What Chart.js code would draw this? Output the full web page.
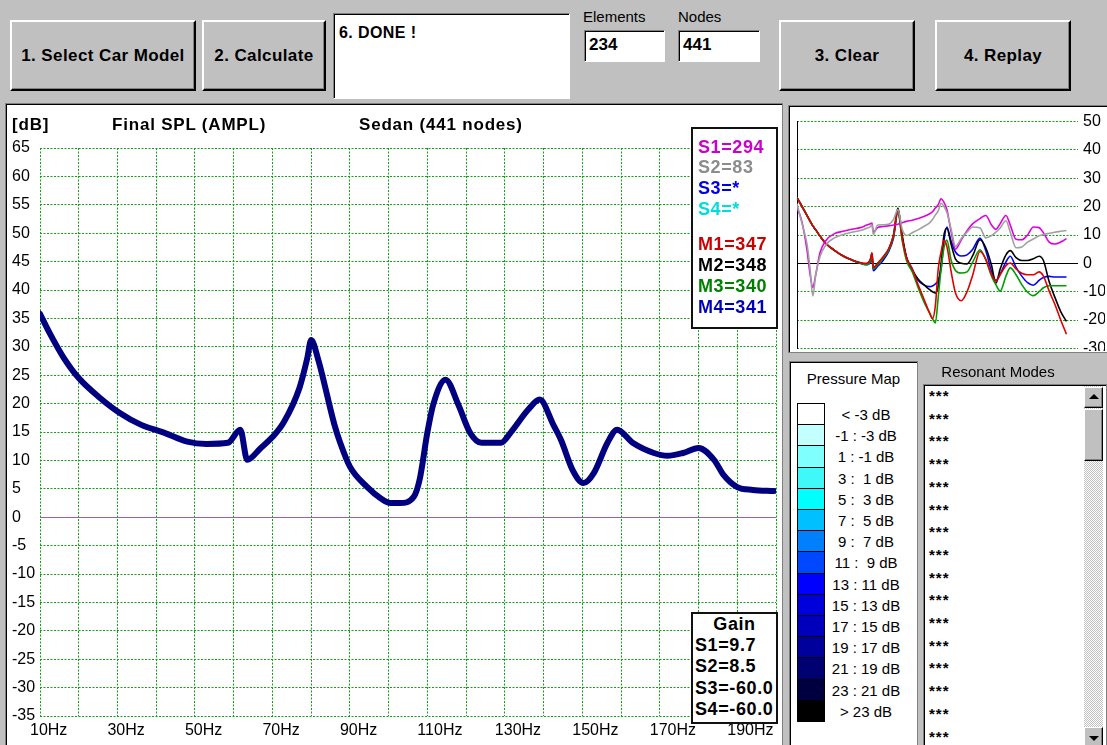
<!DOCTYPE html>
<html>
<head>
<meta charset="utf-8">
<script src="https://cdn.jsdelivr.net/npm/chart.js@4.4.1/dist/chart.umd.min.js"></script>
<style>
  html, body { margin: 0; padding: 0; }
  body {
    width: 1107px; height: 745px; overflow: hidden; position: relative;
    background: #c0c0c0; font-family: "Liberation Sans", Arial, sans-serif; color: #000;
  }
  .abs { position: absolute; white-space: nowrap; line-height: 1; }
  .btn {
    position: absolute; box-sizing: border-box; background: #c0c0c0;
    border-top: 2px solid #fff; border-left: 2px solid #fff;
    border-right: 2px solid #000; border-bottom: 2px solid #000;
    box-shadow: inset -1px -1px 0 #808080;
    display: flex; align-items: center; justify-content: center;
    font-weight: bold; font-size: 17px; letter-spacing: 0.4px;
  }
  .field {
    position: absolute; box-sizing: border-box; background: #fff;
    border-top: 1px solid #808080; border-left: 1px solid #808080;
    border-right: 1px solid #fff; border-bottom: 1px solid #fff;
    box-shadow: inset 1px 1px 0 #000;
  }
  .sunken {
    position: absolute; box-sizing: border-box; background: #fff;
    border-top: 1px solid #808080; border-left: 1px solid #808080;
    border-right: 1px solid #808080; border-bottom: 1px solid #808080;
    box-shadow: inset 1px 1px 0 #000;
  }
  .box { position: absolute; box-sizing: border-box; background: #fff; border: 2px solid #111; }
  .legtxt { position: absolute; font-weight: bold; font-size: 18px; letter-spacing: 0.6px; line-height: 1; white-space: nowrap; }
  .raised {
    position: absolute; box-sizing: border-box; background: #c0c0c0;
    border-top: 1px solid #fff; border-left: 1px solid #fff;
    border-right: 1px solid #000; border-bottom: 1px solid #000;
    box-shadow: inset -1px -1px 0 #808080;
  }
</style>
</head>
<body>

<!-- toolbar -->
<div class="btn" style="left:10px;top:20px;width:186px;height:71px;">1. Select Car Model</div>
<div class="btn" style="left:202px;top:20px;width:124px;height:71px;">2. Calculate</div>
<div class="field" style="left:333px;top:13px;width:237px;height:86px;"></div>
<div class="abs" style="left:339px;top:25px;font-size:16px;font-weight:bold;letter-spacing:0.4px;">6. DONE !</div>
<div class="abs" style="left:583px;top:9px;font-size:15px;">Elements</div>
<div class="field" style="left:584px;top:30px;width:81px;height:32px;"></div>
<div class="abs" style="left:589px;top:36px;font-size:17px;font-weight:bold;">234</div>
<div class="abs" style="left:678px;top:9px;font-size:15px;">Nodes</div>
<div class="field" style="left:678px;top:30px;width:82px;height:32px;"></div>
<div class="abs" style="left:683px;top:36px;font-size:17px;font-weight:bold;">441</div>
<div class="btn" style="left:779px;top:20px;width:136px;height:71px;">3. Clear</div>
<div class="btn" style="left:935px;top:20px;width:136px;height:71px;">4. Replay</div>

<!-- main SPL panel -->
<div class="sunken" style="left:5px;top:103px;width:778px;height:660px;"></div>
<canvas id="mainChart" width="774" height="639" style="position:absolute;left:7px;top:106px;"></canvas>
<div class="abs" style="left:12px;top:116px;font-size:17px;font-weight:bold;letter-spacing:0.8px;">[dB]</div>
<div class="abs" style="left:112px;top:116px;font-size:17px;font-weight:bold;letter-spacing:0.8px;">Final SPL (AMPL)</div>
<div class="abs" style="left:359px;top:116px;font-size:17px;font-weight:bold;letter-spacing:0.8px;">Sedan (441 nodes)</div>
<div class="box" id="legendBox" style="left:691px;top:127px;width:87px;height:202px;"></div>
<div class="box" id="gainBox" style="left:691px;top:612px;width:87px;height:112px;"></div>

<!-- response overview panel -->
<div class="sunken" style="left:788px;top:105px;width:322px;height:248px;"></div>
<div style="position:absolute;left:790px;top:107px;width:317px;height:244px;overflow:hidden;">
  <canvas id="smallChart" width="317" height="256" style="position:absolute;left:0;top:0;"></canvas>
</div>

<!-- pressure map -->
<div class="sunken" style="left:789px;top:361px;width:129px;height:400px;"></div>
<div class="abs" style="left:789px;width:129px;text-align:center;top:371px;font-size:15px;">Pressure Map</div>
<div id="pressureMap"></div>

<!-- resonant modes -->
<div class="abs" style="left:918px;width:160px;text-align:center;top:364px;font-size:15px;">Resonant Modes</div>
<div class="sunken" style="left:923px;top:384px;width:184px;height:380px;"></div>
<div id="modeList"></div>
<div style="position:absolute;left:1084px;top:386px;width:19px;height:360px;background:repeating-conic-gradient(#ffffff 0 25%, #c0c0c0 0 50%) 0 0/2px 2px;"></div>
<div class="raised" style="left:1084px;top:387px;width:19px;height:21px;"></div>
<div style="position:absolute;left:1089px;top:394px;width:0;height:0;border-left:5px solid transparent;border-right:5px solid transparent;border-bottom:5px solid #000;"></div>
<div class="raised" style="left:1084px;top:409px;width:19px;height:52px;"></div>
<div class="raised" style="left:1084px;top:727px;width:19px;height:21px;"></div>
<div style="position:absolute;left:1089px;top:736px;width:0;height:0;border-left:5px solid transparent;border-right:5px solid transparent;border-top:5px solid #000;"></div>

<script>
// ---- main SPL curve (Hz, dB) ----
const mainFreq = [10, 12.5, 16, 20, 25.5, 30.5, 36, 42, 48, 53,
  58.5, 61.7, 63.5, 67, 70, 73, 77, 79, 80, 81.8,
  86, 87.5, 90, 94.5, 98, 100.5, 103, 106.5, 108, 110,
  111.5, 114.7, 118, 121, 124, 129, 131.5, 136, 139, 142.5,
  144.5, 147.5, 150.3, 153, 156.5, 159, 163, 168.5, 172, 176,
  180, 184, 186.5, 190, 194, 199.5];
const mainSpl = [35.8, 32.4, 28.2, 24.5, 21.0, 18.4, 16.3, 14.9, 13.3, 12.9,
  13.1, 15.4, 10.1, 12.2, 14.1, 16.8, 22.8, 28.0, 31.2, 27.8,
  16.3, 13.1, 8.9, 5.3, 3.3, 2.5, 2.5, 3.6, 6.6, 14.9,
  19.8, 24.2, 19.8, 14.9, 13.1, 13.1, 14.9, 18.9, 20.7, 16.3,
  13.6, 8.3, 6.0, 7.8, 13.1, 15.4, 13.1, 11.3, 10.8, 11.3,
  12.2, 10.1, 7.4, 5.3, 4.8, 4.6];

// axis ranges
const freqRange = [10, 200, 10];     // min, max, grid step (Hz)
const dbRange = [-35, 65, 5];        // min, max, step (dB)

// ---- per-point responses for the overview plot ----
const smallFreq = [10, 13, 17, 19, 21, 23, 26, 30, 36, 42,
  48, 54, 58, 61, 62, 63, 66, 70, 74, 77,
  80, 83, 86, 90, 94, 98, 102, 104, 106, 108,
  110, 112, 114, 117, 120, 124, 128, 132, 137, 141,
  145, 148, 151, 155, 158, 162, 166, 170, 174, 178,
  181, 185, 189, 193, 197];
const s1Resp = [19.5, 15.5, 4.5, -3.5, -8.5, -4.0, 3.8, 8.0, 10.5, 11.3,
  12.0, 12.6, 13.4, 14.0, 14.2, 11.0, 12.6, 13.0, 13.3, 13.5,
  13.8, 14.3, 14.8, 15.2, 15.8, 16.5, 17.5, 18.2, 19.5, 20.7,
  22.8, 21.5, 19.0, 11.0, 5.0, 8.3, 11.5, 14.0, 15.8, 16.9,
  13.5, 12.0, 14.0, 16.9, 13.5, 8.5, 8.3, 10.0, 12.8, 12.6,
  10.8, 7.5, 6.8, 7.5, 8.7];
const s2Resp = [21.0, 15.0, 6.6, -1.6, -11.5, -4.0, 2.5, 6.5, 9.0, 10.2,
  11.0, 11.6, 12.3, 13.0, 13.6, 10.2, 13.5, 13.6, 13.9, 15.5,
  19.0, 12.0, 9.8, 10.8, 11.8, 13.0, 14.3, 15.5, 17.0, 18.5,
  21.2, 20.0, 18.0, 12.0, 6.0, 8.8, 11.0, 12.8, 12.5, 9.0,
  9.8, 11.0, 12.5, 15.0, 11.0, 5.5, 5.8, 7.5, 8.6, 9.7,
  10.2, 10.6, 11.0, 11.3, 11.6];
const m1Resp = [23.2, 20.5, 16.8, 15.0, 13.2, 11.8, 9.6, 7.0, 4.6, 2.6,
  1.2, 0.2, 0.0, 1.5, 3.6, -1.5, 0.0, 2.5, 5.5, 10.0,
  19.0, 9.0, 2.0, -2.0, -7.5, -12.5, -17.5, -19.5, -15.0, -2.0,
  4.0, 8.0, 6.0, -3.0, -10.5, -13.2, -10.0, -4.0, 4.2, 1.5,
  -4.0, -6.2, -4.0, -0.8, 0.1, -2.0, -3.5, -4.0, -4.0, -3.0,
  -4.5, -9.8, -14.5, -20.0, -25.0];
const m2Resp = [23.2, 20.5, 16.8, 15.0, 13.2, 11.8, 9.6, 7.0, 4.6, 2.6,
  1.2, 0.2, -0.2, 1.5, 3.6, -1.5, 0.0, 2.0, 5.5, 10.0,
  19.5, 10.0, 2.0, -2.5, -5.5, -7.5, -9.3, -10.0, -10.5, -8.0,
  0.0, 10.0, 12.4, 6.6, 1.5, 0.0, -0.2, 2.8, 8.3, 5.5,
  -0.7, -7.0, -2.0, 3.0, 4.5, 2.0, 1.0, 1.0, 1.6, 2.5,
  1.0, -6.5, -12.0, -17.0, -20.5];
const m3Resp = [23.2, 20.5, 16.8, 15.0, 13.2, 11.8, 9.6, 7.0, 4.6, 2.6,
  1.2, 0.0, -0.5, 0.8, 2.5, -2.0, -0.5, 2.0, 5.0, 9.5,
  18.5, 8.0, 1.0, -3.0, -8.5, -13.5, -17.5, -19.5, -21.0, -12.0,
  -2.0, 5.5, 8.2, 1.0, -2.5, -3.4, -3.0, 0.5, 4.8, 1.2,
  -4.5, -7.5, -9.8, -4.5, -1.6, -4.0, -7.5, -10.2, -11.4, -10.0,
  -8.6, -7.9, -7.9, -7.9, -7.9];
const m4Resp = [23.2, 20.5, 16.8, 15.0, 13.2, 11.8, 9.6, 7.0, 4.6, 2.6,
  1.2, 0.0, -0.5, 0.3, 1.9, -2.6, -1.0, 1.2, 4.6, 9.0,
  18.3, 9.0, 2.2, -2.0, -6.0, -7.6, -8.2, -8.0, -7.3, -6.0,
  -2.0, 8.0, 12.8, 7.7, 4.0, 2.6, 3.0, 5.0, 8.9, 4.5,
  -2.8, -6.0, -3.8, 0.5, 2.5, -1.4, -4.5, -6.8, -7.7, -6.0,
  -5.0, -4.6, -4.8, -4.8, -4.8];
const smallRange = [-30, 50, 10];

// ---- legend / gain text ----
const legendLabels = ['S1=294', 'S2=83', 'S3=*', 'S4=*', 'M1=347', 'M2=348', 'M3=340', 'M4=341'];
const legendColors = ['#cc00cc', '#8c8c8c', '#0000ee', '#00dddd', '#cc0000', '#000000', '#008000', '#0000bb'];
const gainLabels = ['S1=9.7', 'S2=8.5', 'S3=-60.0', 'S4=-60.0'];

// ---- pressure map scale ----
const pressureLabels = ['< -3 dB', '-1 : -3 dB', '1 : -1 dB', '3 :  1 dB', '5 :  3 dB', '7 :  5 dB',
  '9 :  7 dB', '11 :  9 dB', '13 : 11 dB', '15 : 13 dB', '17 : 15 dB', '19 : 17 dB',
  '21 : 19 dB', '23 : 21 dB', '> 23 dB'];
const pressureColors = ['#ffffff', '#c4ffff', '#80ffff', '#40f8f8', '#00ffff', '#00c0ff',
  '#0080ff', '#0048ff', '#0000ff', '#0000dc', '#0000bc', '#00009c', '#000070', '#000040', '#000000'];
const modeEntries = Array(16).fill('***');

const toXY = (xs, ys) => xs.map((x, i) => ({ x: x, y: ys[i] }));
const FONT = '"Liberation Sans", Arial, sans-serif';
const GRID_GREEN = '#14a014';
const GRID_DASH = [2, 1.5];

// ---------- main SPL chart ----------
new Chart(document.getElementById('mainChart'), {
  type: 'line',
  data: {
    datasets: [{
      data: toXY(mainFreq, mainSpl),
      borderColor: '#000080',
      borderWidth: 6,
      borderJoinStyle: 'round',
      borderCapStyle: 'round',
      pointRadius: 0,
      cubicInterpolationMode: 'monotone',
      fill: false
    }]
  },
  options: {
    responsive: false, animation: false, devicePixelRatio: 1,
    layout: { padding: { left: 5, top: 42, right: 5, bottom: 0 } },
    plugins: { legend: { display: false }, tooltip: { enabled: false } },
    scales: {
      x: {
        type: 'linear', min: freqRange[0], max: freqRange[1],
        afterFit: s => { s.height = 29; },
        border: { display: false, dash: GRID_DASH },
        grid: { color: GRID_GREEN, lineWidth: 1, drawTicks: false },
        ticks: {
          stepSize: freqRange[2], autoSkip: false, maxRotation: 0,
          align: 'start', labelOffset: -10, padding: 5,
          color: '#000', font: { family: FONT, size: 16 },
          callback: v => ((v - 10) % 20 === 0 && v < 200) ? v + 'Hz' : ''
        }
      },
      y: {
        type: 'linear', min: dbRange[0], max: dbRange[1],
        afterFit: s => { s.width = 28; },
        border: { display: false, dash: c => (c.tick && c.tick.value === 0) ? [] : GRID_DASH },
        grid: {
          drawTicks: false, lineWidth: 1,
          color: c => (c.tick && c.tick.value === 0) ? '#9a62a6' : GRID_GREEN
        },
        ticks: {
          stepSize: dbRange[2], autoSkip: false, crossAlign: 'far', padding: 0,
          color: '#000', font: { family: FONT, size: 16 },
          callback: v => String(v)
        }
      }
    }
  }
});

// ---------- overview chart ----------
const lineSet = (ys, color) => ({
  data: toXY(smallFreq, ys), borderColor: color, borderWidth: 1.6,
  pointRadius: 0, cubicInterpolationMode: 'monotone', fill: false
});
new Chart(document.getElementById('smallChart'), {
  type: 'line',
  data: {
    datasets: [
      lineSet(s2Resp, '#a0a0a0'),
      lineSet(s1Resp, '#e000e0'),
      lineSet(m1Resp, '#e00000'),
      lineSet(m3Resp, '#009c00'),
      lineSet(m2Resp, '#000000'),
      lineSet(m4Resp, '#0000ff')
    ]
  },
  options: {
    responsive: false, animation: false, devicePixelRatio: 1,
    layout: { padding: { left: 7, top: 13, right: 2, bottom: 4 } },
    plugins: { legend: { display: false }, tooltip: { enabled: false } },
    scales: {
      x: { type: 'linear', min: 10, max: 205, display: false },
      yl: {
        type: 'linear', position: 'left', min: smallRange[0], max: smallRange[1],
        afterFit: s => { s.width = 0; },
        grid: { display: false, drawTicks: false },
        ticks: { display: false },
        border: { display: true, color: '#000', width: 1 }
      },
      y: {
        type: 'linear', position: 'right', min: smallRange[0], max: smallRange[1],
        afterFit: s => { s.width = 27; },
        border: { display: false, dash: c => (c.tick && c.tick.value === 0) ? [] : GRID_DASH },
        grid: {
          drawTicks: false, lineWidth: 1,
          color: c => (c.tick && c.tick.value === 0) ? '#000000' : GRID_GREEN
        },
        ticks: {
          stepSize: smallRange[2], autoSkip: false, crossAlign: 'near', padding: 5,
          color: '#000', font: { family: FONT, size: 16 },
          callback: v => String(v)
        }
      }
    }
  }
});

// ---------- legend and gain boxes ----------
const legendCenters = [147, 167, 188, 209, 244, 265, 286, 307];
legendLabels.forEach((t, i) => {
  const d = document.createElement('div');
  d.className = 'legtxt';
  d.style.left = '698px';
  d.style.top = (legendCenters[i] - 9) + 'px';
  d.style.color = legendColors[i];
  d.textContent = t;
  document.body.appendChild(d);
});
const gTitle = document.createElement('div');
gTitle.className = 'legtxt';
gTitle.style.left = '691px'; gTitle.style.width = '87px'; gTitle.style.textAlign = 'center';
gTitle.style.top = (624 - 9) + 'px';
gTitle.textContent = 'Gain';
document.body.appendChild(gTitle);
const gainCenters = [645, 666, 688, 709];
gainLabels.forEach((t, i) => {
  const d = document.createElement('div');
  d.className = 'legtxt';
  d.style.left = '695px';
  d.style.top = (gainCenters[i] - 9) + 'px';
  d.textContent = t;
  document.body.appendChild(d);
});

// ---------- pressure map scale ----------
const pm = document.getElementById('pressureMap');
pressureColors.forEach((c, i) => {
  const top = 403 + i * 21.2;
  const sw = document.createElement('div');
  sw.style.cssText = 'position:absolute;box-sizing:border-box;left:797px;width:28px;border:1px solid #000;';
  sw.style.top = top + 'px';
  sw.style.height = '22.2px';
  sw.style.background = c;
  pm.appendChild(sw);
  const lb = document.createElement('div');
  lb.className = 'abs';
  lb.style.cssText += 'left:826px;width:80px;text-align:center;font-size:15px;white-space:pre;';
  lb.style.top = (top + 4) + 'px';
  lb.textContent = pressureLabels[i];
  pm.appendChild(lb);
});

// ---------- resonant mode list ----------
const ml = document.getElementById('modeList');
modeEntries.forEach((t, i) => {
  const d = document.createElement('div');
  d.className = 'abs';
  d.style.cssText += 'left:929px;font-size:15px;font-weight:bold;letter-spacing:1px;';
  d.style.top = (388 + i * 22.7) + 'px';
  d.textContent = t;
  ml.appendChild(d);
});
</script>
</body>
</html>
